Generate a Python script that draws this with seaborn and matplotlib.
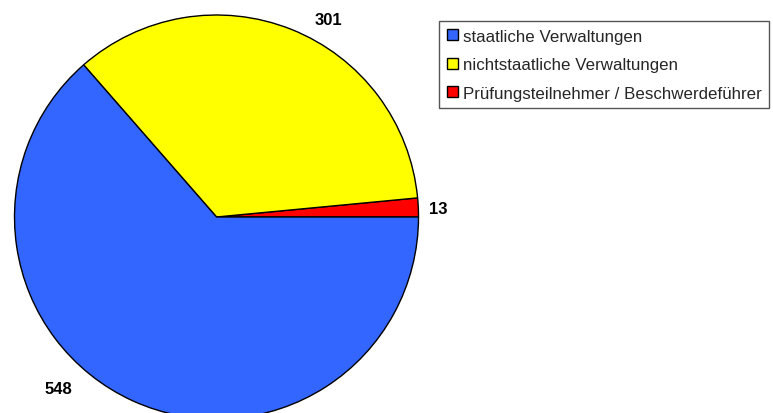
import seaborn as sns
import matplotlib.pyplot as plt
from matplotlib.patches import Patch

# data (legend order)
categories = ["staatliche Verwaltungen", "nichtstaatliche Verwaltungen",
              "Prüfungsteilnehmer / Beschwerdeführer"]
values = [548, 301, 13]
colors = ["#3366FF", "#FFFF00", "#FF0000"]

sns.set_style("white")
plt.rcParams["font.family"] = ["Liberation Sans", "DejaVu Sans"]

W, H = 773, 414
fig = plt.figure(figsize=(W / 100, H / 100), dpi=100)
ax = fig.add_axes([0, 0, 1, 1])

# pie drawn counterclockwise from 3 o'clock, smallest slice first
ax.pie(values[::-1], colors=colors[::-1], startangle=0, counterclock=True,
       center=(216.5, H - 218), radius=202,
       wedgeprops=dict(edgecolor="black", linewidth=1))
ax.set_xlim(0, W)
ax.set_ylim(0, H)
ax.set_aspect("equal")
ax.axis("off")

# value labels
label_pos = [(58.5, H - 390), (328, H - 20.5), (438, H - 209)]
for (x, y), v in zip(label_pos, values):
    ax.text(x, y, str(v), ha="center", va="center", fontsize=12,
            fontweight="bold", color="black")

handles = [Patch(facecolor=c, edgecolor="black", linewidth=1) for c in colors]
leg = fig.legend(handles, categories, loc="upper left",
                 bbox_to_anchor=(439 / W, 1 - 22 / H), fontsize=12.2,
                 frameon=True, fancybox=False, framealpha=1,
                 edgecolor="#555555", handlelength=0.65, handleheight=0.65,
                 handletextpad=0.3, labelspacing=0.8, borderpad=0.45,
                 borderaxespad=0)
leg.get_frame().set_linewidth(1)

fig.savefig("out.png", dpi=100)
plt.close(fig)
